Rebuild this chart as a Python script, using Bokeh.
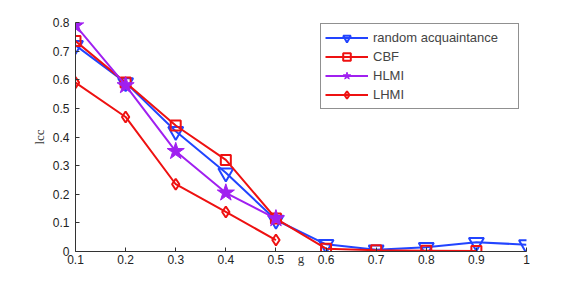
from bokeh.plotting import figure
from bokeh.models import Range1d, FixedTicker, CustomJSTickFormatter, Legend, LegendItem
from bokeh.embed import file_html
from bokeh.resources import INLINE

g = [0.1, 0.2, 0.3, 0.4, 0.5, 0.6, 0.7, 0.8, 0.9, 1.0]
random_acq = [0.72, 0.59, 0.42, 0.275, 0.11, 0.025, 0.006, 0.015, 0.032, 0.024]
cbf_g = [0.1, 0.2, 0.3, 0.4, 0.5, 0.6, 0.7, 0.8, 0.9]
cbf = [0.735, 0.59, 0.44, 0.32, 0.115, 0.01, 0.004, 0.003, 0.002]
hlmi_g = [0.1, 0.2, 0.3, 0.4, 0.5]
hlmi = [0.79, 0.58, 0.35, 0.205, 0.115]
lhmi_g = [0.1, 0.2, 0.3, 0.4, 0.5]
lhmi = [0.59, 0.47, 0.235, 0.138, 0.04]
x_ticks = [0.1, 0.2, 0.3, 0.4, 0.5, 0.6, 0.7, 0.8, 0.9, 1.0]
y_ticks = [0, 0.1, 0.2, 0.3, 0.4, 0.5, 0.6, 0.7, 0.8]

BLUE = "#2244ff"
RED = "#ee1111"
PURPLE = "#a020f0"

p = figure(width=565, height=268, output_backend="svg", toolbar_location=None,
           x_range=Range1d(0.1, 1.0), y_range=Range1d(0, 0.8),
           min_border_left=75, min_border_right=39, min_border_top=22, min_border_bottom=16)
p.outline_line_color = None
p.xgrid.visible = False
p.ygrid.visible = False

fmt = CustomJSTickFormatter(code="return tick.toFixed(1).replace(/\\.0$/, '');")
for ax, ticks, lab in ((p.xaxis[0], x_ticks, "g"), (p.yaxis[0], y_ticks, "lcc")):
    ax.ticker = FixedTicker(ticks=ticks)
    ax.formatter = fmt
    ax.major_tick_in = 4
    ax.major_tick_out = 0
    ax.minor_tick_line_color = None
    ax.axis_line_color = "#333333"
    ax.major_tick_line_color = "#333333"
    ax.major_label_text_font = "Liberation Sans"
    ax.major_label_text_font_size = "12px"
    ax.major_label_text_color = "#222222"
    ax.axis_label = lab
    ax.axis_label_text_font = "Liberation Serif"
    ax.axis_label_text_font_style = "normal"
    ax.axis_label_text_font_size = "13px"
    ax.axis_label_text_color = "#333333"
p.xaxis.major_label_standoff = 3
p.xaxis.axis_label_standoff = -16
p.yaxis.major_label_standoff = 6
p.yaxis.axis_label_standoff = 3

l1 = p.line(g, random_acq, line_color=BLUE, line_width=2)
m1 = p.scatter(g, random_acq, marker="inverted_triangle", size=15, line_color=BLUE,
               line_width=2, fill_alpha=0)
l2 = p.line(cbf_g, cbf, line_color=RED, line_width=2)
m2 = p.scatter(cbf_g, cbf, marker="square", size=10, line_color=RED,
               line_width=2, fill_alpha=0)
l3 = p.line(hlmi_g, hlmi, line_color=PURPLE, line_width=2)
m3 = p.scatter(hlmi_g, hlmi, marker="star", size=18, line_color=PURPLE,
               fill_color=PURPLE, line_width=1)
l4 = p.line(lhmi_g, lhmi, line_color=RED, line_width=2)
m4 = p.scatter(lhmi_g, lhmi, marker="diamond", size=11, line_color=RED,
               line_width=2, fill_alpha=0)

legend = Legend(items=[
    LegendItem(label="random acquaintance", renderers=[l1, m1]),
    LegendItem(label="CBF", renderers=[l2, m2]),
    LegendItem(label="HLMI", renderers=[l3, m3]),
    LegendItem(label="LHMI", renderers=[l4, m4]),
], location=(245, 142))
legend.border_line_color = "#222222"
legend.border_line_width = 1
legend.background_fill_color = "white"
legend.label_text_font = "Liberation Sans"
legend.label_text_font_size = "13px"
legend.glyph_width = 43
legend.glyph_height = 19
legend.label_height = 19
legend.label_width = 141
legend.spacing = 0
legend.padding = 4
legend.margin = 0
legend.label_standoff = 5
p.add_layout(legend)

open("out.html", "w").write(file_html(p, INLINE))
